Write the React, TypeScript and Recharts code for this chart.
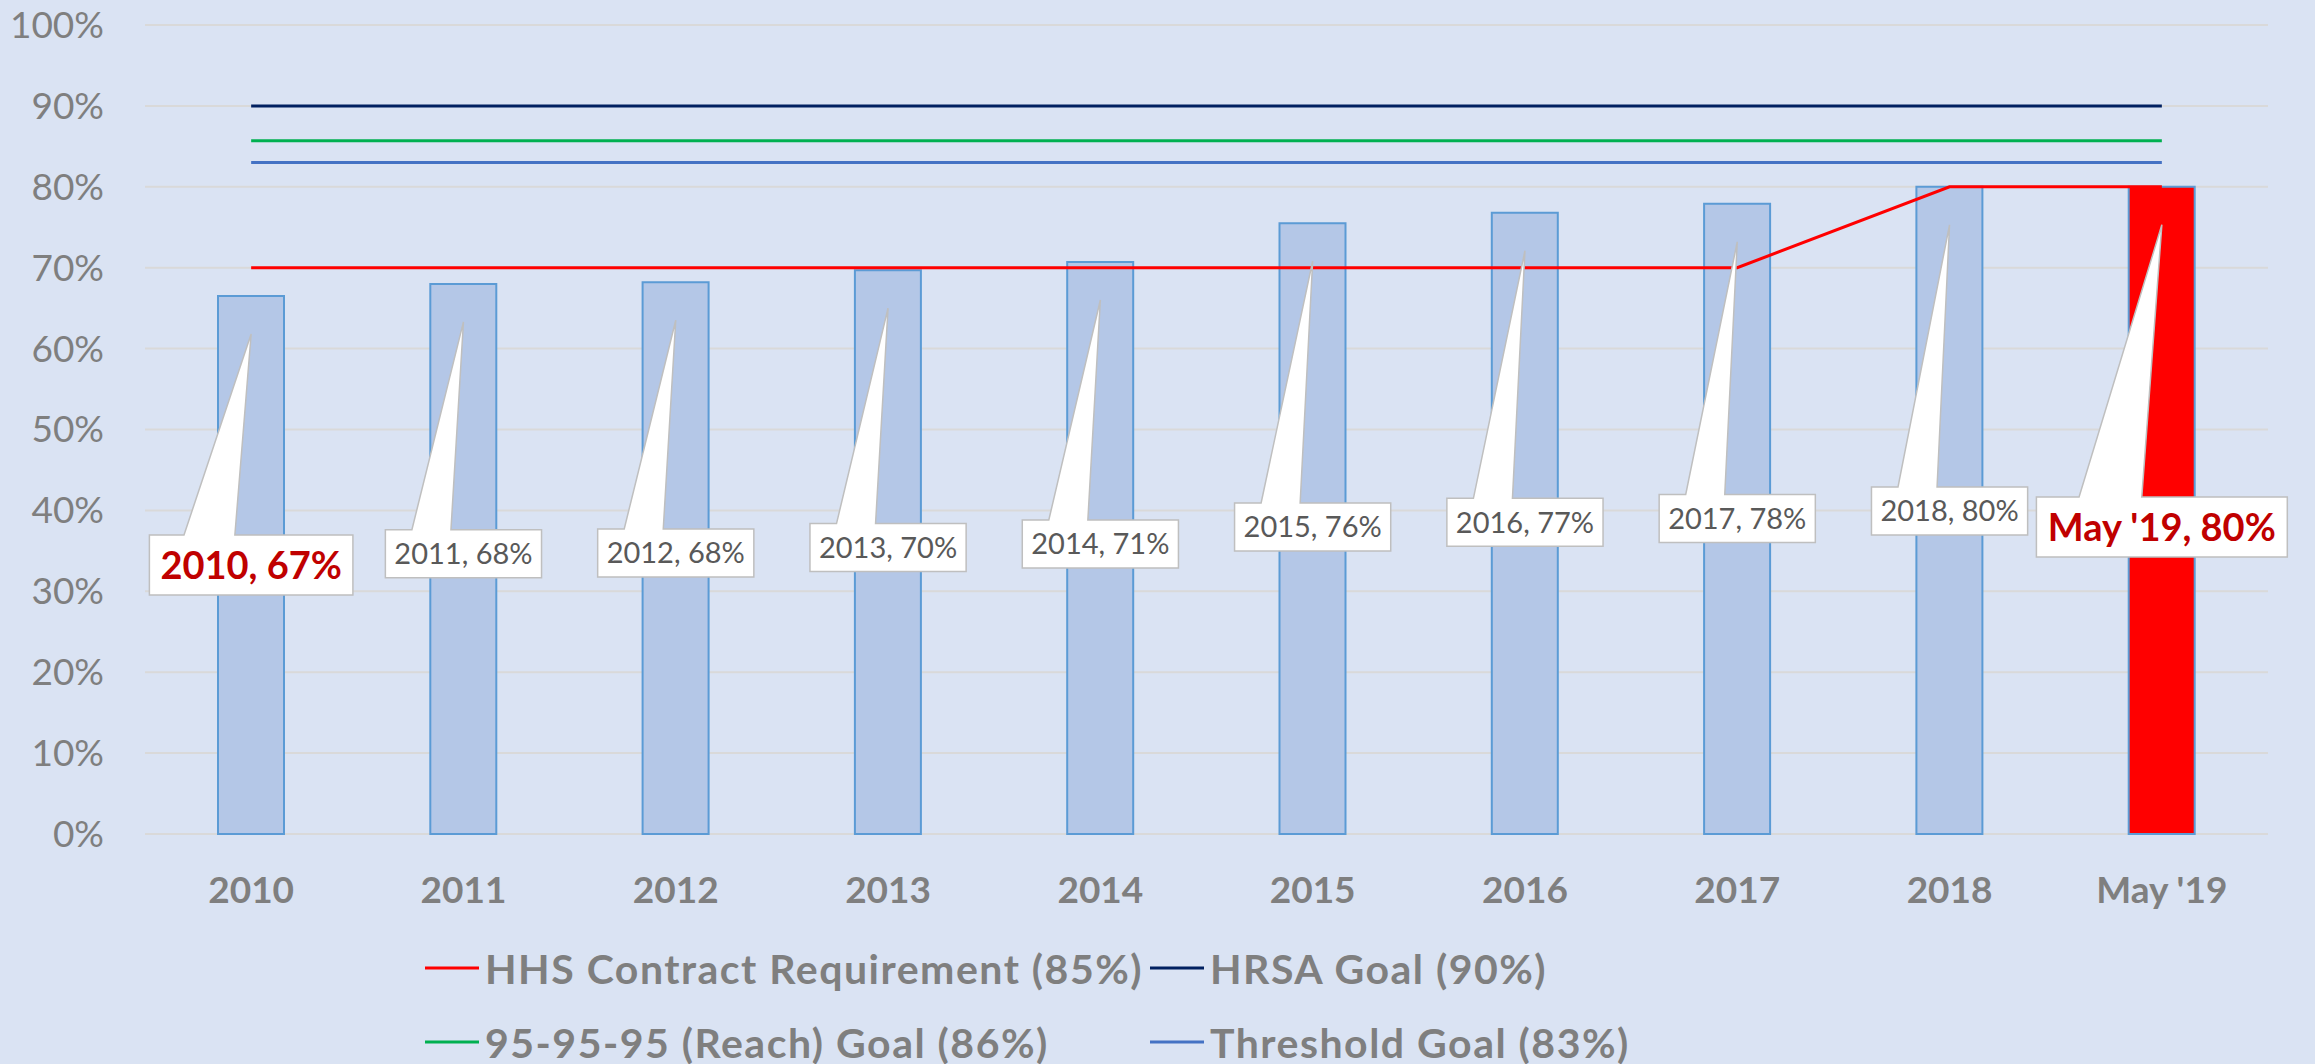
import {
  ComposedChart,
  Bar,
  Line,
  XAxis,
  YAxis,
  CartesianGrid,
  Legend,
  Cell,
  LabelList,
} from "recharts";

const categories = ["2010", "2011", "2012", "2013", "2014", "2015", "2016", "2017", "2018", "May '19"];
const suppressionRate = [66.5, 68.0, 68.2, 69.7, 70.7, 75.5, 76.8, 77.9, 80.0, 80.0];
const hhsRequirement = [70, 70, 70, 70, 70, 70, 70, 70, 80, 80];
const hrsaGoal = [90, 90, 90, 90, 90, 90, 90, 90, 90, 90];
const reachGoal = [85.7, 85.7, 85.7, 85.7, 85.7, 85.7, 85.7, 85.7, 85.7, 85.7];
const thresholdGoal = [83, 83, 83, 83, 83, 83, 83, 83, 83, 83];
const yTicks = [0, 10, 20, 30, 40, 50, 60, 70, 80, 90, 100];

// callouts shown bold/red, and the bar filled red
const boldLabels = ["2010", "May '19"];
const redBars = ["May '19"];

const series = [
  { key: "hhs", name: "HHS Contract Requirement (85%)", color: "#FF0000" },
  { key: "hrsa", name: "HRSA Goal (90%)", color: "#002060" },
  { key: "reach", name: "95-95-95 (Reach) Goal (86%)", color: "#00B050" },
  { key: "threshold", name: "Threshold Goal (83%)", color: "#4472C4" },
];

const chartData = categories.map((name, i) => ({
  name,
  rate: suppressionRate[i],
  hhs: hhsRequirement[i],
  hrsa: hrsaGoal[i],
  reach: reachGoal[i],
  threshold: thresholdGoal[i],
}));

const W = 2315;
const H = 1064;
const FONT = "Lato, 'Open Sans', sans-serif";

const ctx = typeof document !== "undefined" ? document.createElement("canvas").getContext("2d") : null;
const measure = (text: string, font: string) => {
  if (!ctx) return text.length * 16;
  ctx.font = font;
  return ctx.measureText(text).width;
};

const YTick = ({ x, y, payload }: any) => (
  <text x={x - 41} y={y} dy="0.35em" textAnchor="end" fontFamily={FONT} fontSize={37} fill="#7F7F7F">
    {payload.value}%
  </text>
);

const XTick = ({ x, y, payload }: any) => (
  <text x={x} y={y + 69} textAnchor="middle" fontFamily={FONT} fontSize={37} fontWeight="bold" fill="#7F7F7F">
    {payload.value}
  </text>
);

const Callout = (props: any) => {
  const vb = props.viewBox || {};
  const x = props.x ?? vb.x;
  const y = props.y ?? vb.y;
  const index = props.index;
  if (x == null || y == null || index == null) return null;
  const cat = categories[index];
  const bold = boldLabels.includes(cat);
  const text = `${cat}, ${Math.round(suppressionRate[index])}%`;
  const size = bold ? 38 : 29;
  const font = `${bold ? "bold " : ""}${size}px Lato`;
  const w = measure(text, font) + (bold ? 22 : 18);
  const h = bold ? 60 : 48;
  const left = x - w / 2;
  const top = 487 + 0.44 * (y - 187) + (bold && y < 200 ? 10 : 0);
  const tipY = y + 38;
  const b1 = left + 0.17 * w;
  const b2 = left + 0.42 * w;
  const d = `M${left},${top} L${b1},${top} L${x},${tipY} L${b2},${top} L${left + w},${top} L${left + w},${top + h} L${left},${top + h} Z`;
  return (
    <g>
      <path d={d} fill="#FFFFFF" stroke="#BFBFBF" strokeWidth={1.5} />
      <text
        x={x}
        y={top + h / 2}
        dy="0.36em"
        textAnchor="middle"
        fontFamily={FONT}
        fontSize={size}
        fontWeight={bold ? "bold" : "normal"}
        fill={bold ? "#C00000" : "#595959"}
      >
        {text}
      </text>
    </g>
  );
};

const renderLegend = () => (
  <div
    style={{
      position: "relative",
      width: W,
      height: 130,
      fontFamily: FONT,
      fontWeight: 700,
      fontSize: 41,
      letterSpacing: 1.5,
      color: "#7F7F7F",
    }}
  >
    {series.map((s, i) => (
      <div
        key={s.key}
        style={{
          position: "absolute",
          left: i % 2 ? 1150 : 425,
          top: i < 2 ? 34 : 108,
          transform: "translateY(-50%)",
          display: "flex",
          alignItems: "center",
          whiteSpace: "nowrap",
        }}
      >
        <span style={{ display: "inline-block", width: 54, height: 3, background: s.color, marginRight: 6 }} />
        <span>{s.name}</span>
      </div>
    ))}
  </div>
);

export default function App() {
  return (
    <div style={{ position: "absolute", left: 0, top: 0, width: W, height: H, background: "#DAE3F3" }}>
      <ComposedChart width={W} height={H} data={chartData} margin={{ top: 25, right: 47, left: 0, bottom: 0 }}>
        <CartesianGrid vertical={false} stroke="#D9D9D9" strokeWidth={2} />
        <XAxis dataKey="name" axisLine={false} tickLine={false} tickSize={0} tickMargin={0} height={100} tick={<XTick />} interval={0} />
        <YAxis
          domain={[0, 100]}
          ticks={yTicks}
          axisLine={false}
          tickLine={false}
          tickSize={0}
          tickMargin={0}
          width={145}
          tick={<YTick />}
          interval={0}
        />
        <Legend verticalAlign="bottom" content={renderLegend} wrapperStyle={{ left: 0, bottom: 0, width: W, height: 130 }} />
        <Bar dataKey="rate" barSize={66} fill="#B4C7E7" stroke="#5B9BD5" strokeWidth={2} isAnimationActive={false}>
          {chartData.map((entry, index) => (
            <Cell key={`cell-${index}`} fill={redBars.includes(entry.name) ? "#FF0000" : "#B4C7E7"} />
          ))}
        </Bar>
        {series.map((s) => (
          <Line
            key={s.key}
            dataKey={s.key}
            name={s.name}
            type="linear"
            stroke={s.color}
            strokeWidth={3}
            dot={false}
            activeDot={false}
            isAnimationActive={false}
          />
        ))}
        <Line dataKey="rate" stroke="none" dot={false} activeDot={false} legendType="none" isAnimationActive={false}>
          <LabelList dataKey="rate" content={<Callout />} />
        </Line>
      </ComposedChart>
    </div>
  );
}
